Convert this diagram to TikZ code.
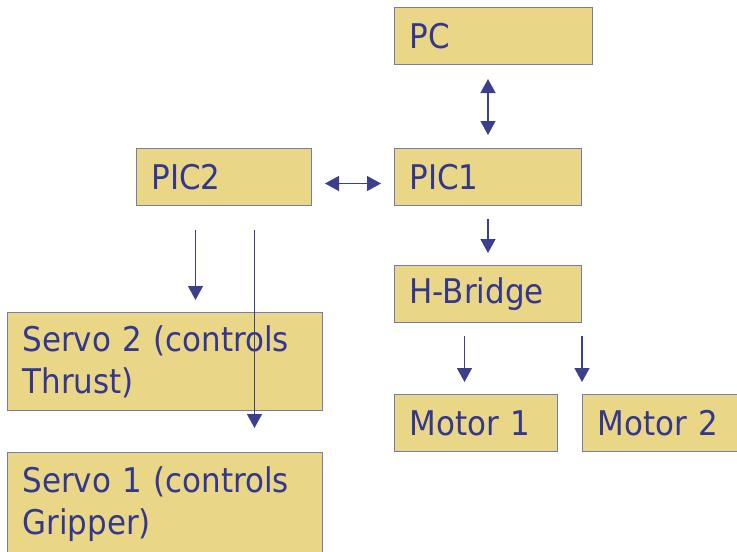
\documentclass[tikz,border=0pt]{standalone}
\usepackage{fontspec}
\setmainfont[FakeStretch=0.91]{DejaVu Sans}
\usetikzlibrary{arrows.meta,positioning}
\definecolor{sand}{RGB}{233,214,134}
\definecolor{edge}{RGB}{118,124,170}
\definecolor{ink}{RGB}{52,56,140}
\definecolor{wire}{RGB}{60,64,140}

\begin{document}
\begin{tikzpicture}[x=1pt,y=-1pt,font=\fontsize{34}{42}\selectfont,
  blk/.style={draw=edge, line width=1pt, fill=sand, text=ink, anchor=north west, align=left,
    inner xsep=15pt, inner ysep=0pt, minimum height=57pt},
  arr/.style={draw=wire, line width=1.4pt, -{Triangle[length=14pt,width=15pt]}},
  biarr/.style={arr, {Triangle[length=14pt,width=15pt]}-{Triangle[length=14pt,width=15pt]}},
]
\useasboundingbox (0,0) rectangle (737,552);

\node[blk, text width=168pt] (pc) at (394,7) {PC};
\node[blk, text width=157pt] (pic1) at (394,148) {PIC1};
\node[blk, text width=157pt] (hb) at (394,265) {H-Bridge};
\node[blk, text width=133pt] (m1) at (394,394) {Motor 1};
\node[blk, text width=128pt] (m2) at (582,394) {Motor 2};
\node[blk, text width=145pt] (pic2) at (136,148) {PIC2};
\node[blk, text width=285pt, minimum height=98pt] (s2) at (7,312) {Servo 2 (controls\\Thrust)};
\node[blk, text width=285pt, minimum height=104pt] (s1) at (7,452) {Servo 1 (controls\\Gripper)};

\draw[biarr, shorten <=13pt, shorten >=14pt] (pic1.north) -- (pic1.north |- pc.south);
\draw[biarr, shorten <=13pt, shorten >=13pt] ([yshift=-6.5pt]pic2.east) -- ([yshift=-6.5pt]pic2.east -| pic1.west);
\draw[arr, shorten <=13pt, shorten >=12pt] (pic1.south) -- (hb.north);
\draw[arr, shorten <=13pt, shorten >=12pt] ([xshift=-11.5pt]m1.north |- hb.south) -- ([xshift=-11.5pt]m1.north);
\draw[arr, shorten <=13pt, shorten >=12pt] (hb.south east) -- (hb.south east |- m2.north);
\draw[arr, shorten <=24pt, shorten >=12pt] ([xshift=-28.5pt]pic2.south) -- ([xshift=-28.5pt]pic2.south |- s2.north);
\draw[arr, shorten <=24pt, shorten >=24pt] ([xshift=30.5pt]pic2.south) -- ([xshift=30.5pt]pic2.south |- s1.north);

\end{tikzpicture}
\end{document}
